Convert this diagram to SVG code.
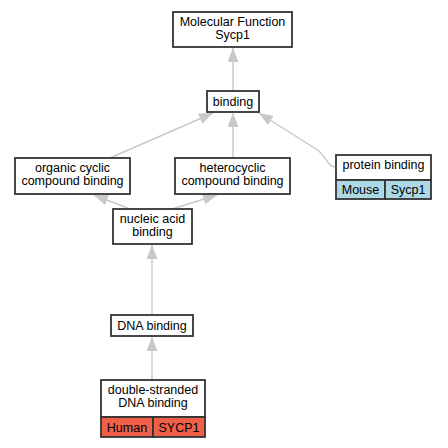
<svg xmlns="http://www.w3.org/2000/svg" width="448" height="448" viewBox="0 0 448 448">
<style>
.box{fill:#fff;stroke:#333;stroke-width:1.8}
.cell{stroke:#333;stroke-width:1.8}
.t{font-family:"Liberation Sans",Arial,sans-serif;font-size:12.5px;fill:#000;text-anchor:middle}
.e{fill:none;stroke:#c8c8c8;stroke-width:1.4}
</style>
<defs>
<marker id="ah" viewBox="0 0 14 11" refX="14" refY="5.5" markerWidth="14" markerHeight="11" markerUnits="userSpaceOnUse" orient="auto">
<path d="M0,0 L14,5.5 L0,11 Z" fill="#c8c8c8"/>
</marker>
</defs>
<rect width="448" height="448" fill="#fff"/>
<g id="edges">
<path class="e" d="M233,91 L233,48" marker-end="url(#ah)"/>
<path class="e" d="M110,158 L213,113" marker-end="url(#ah)"/>
<path class="e" d="M233,158 L233,113" marker-end="url(#ah)"/>
<path class="e" d="M336,167 C326,166 327,156 316,149 L259,113" marker-end="url(#ah)"/>
<path class="e" d="M130,209 L94,195" marker-end="url(#ah)"/>
<path class="e" d="M172,209 L217,195" marker-end="url(#ah)"/>
<path class="e" d="M152,315 L152,245" marker-end="url(#ah)"/>
<path class="e" d="M152,380 L152,337" marker-end="url(#ah)"/>
</g>
<g id="mf">
<rect class="box" x="173" y="12" width="119" height="35"/>
<text class="t" x="232.5" y="25.5">Molecular Function</text>
<text class="t" x="232.5" y="38.5">Sycp1</text>
</g>
<g id="binding">
<rect class="box" x="207" y="91" width="52" height="21"/>
<text class="t" x="233" y="106">binding</text>
</g>
<g id="organic">
<rect class="box" x="15" y="158" width="115" height="36"/>
<text class="t" x="72.5" y="172">organic cyclic</text>
<text class="t" x="72.5" y="185">compound binding</text>
</g>
<g id="hetero">
<rect class="box" x="175" y="158" width="115" height="36"/>
<text class="t" x="232.5" y="172">heterocyclic</text>
<text class="t" x="232.5" y="185">compound binding</text>
</g>
<g id="protein">
<rect class="box" x="336" y="155" width="95" height="25"/>
<rect class="cell" x="336" y="180" width="49" height="19" fill="#add8e6"/>
<rect class="cell" x="385" y="180" width="46" height="19" fill="#add8e6"/>
<text class="t" x="383.5" y="169">protein binding</text>
<text class="t" x="360.5" y="194">Mouse</text>
<text class="t" x="408" y="194">Sycp1</text>
</g>
<g id="nucleic">
<rect class="box" x="113" y="209" width="79" height="35"/>
<text class="t" x="152.5" y="222.5">nucleic acid</text>
<text class="t" x="152.5" y="235.5">binding</text>
</g>
<g id="dna">
<rect class="box" x="111" y="315" width="82" height="21"/>
<text class="t" x="152" y="330">DNA binding</text>
</g>
<g id="ds">
<rect class="box" x="101" y="380" width="104" height="37"/>
<rect class="cell" x="101" y="417" width="52" height="20" fill="#f05f47"/>
<rect class="cell" x="153" y="417" width="52" height="20" fill="#f05f47"/>
<text class="t" x="153" y="393.5">double-stranded</text>
<text class="t" x="153" y="406.5">DNA binding</text>
<text class="t" x="127" y="432">Human</text>
<text class="t" x="179" y="432">SYCP1</text>
</g>
</svg>
